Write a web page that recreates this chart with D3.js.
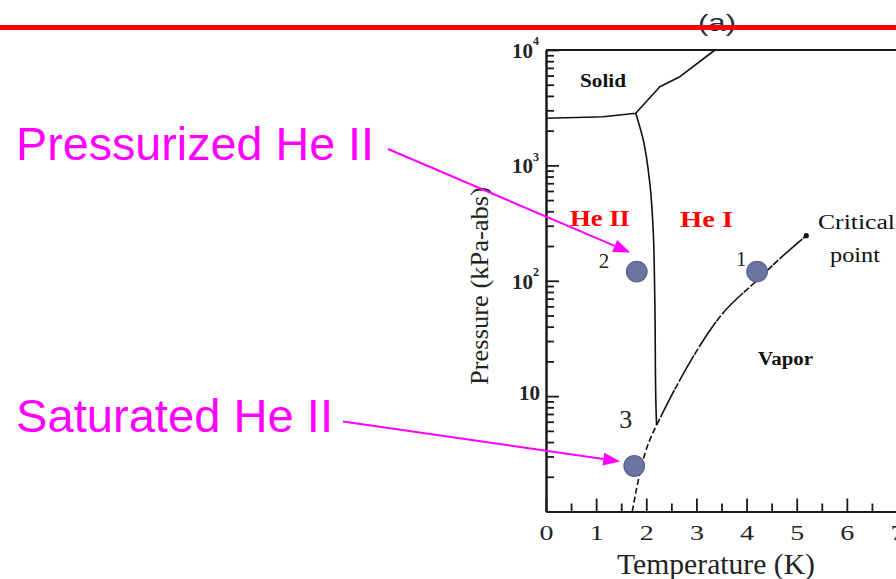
<!DOCTYPE html>
<html>
<head>
<meta charset="utf-8">
<script src="https://cdn.jsdelivr.net/npm/d3@7/dist/d3.min.js"></script>
<style>
  html, body { margin: 0; padding: 0; background: #fff; }
  svg { display: block; }
</style>
</head>
<body>
<svg id="chart" width="896" height="579"></svg>
<script>
// Helium phase diagram: temperature (K) vs pressure (kPa-abs, log scale)

// Melting curve (solid boundary)
const meltT = [0, 0.8, 1.14, 1.79, 2.27, 2.67, 3.37];
const meltP = [2560, 2610, 2640, 2826, 4800, 5870, 10000];

// Lambda line (He II / He I boundary)
const lambdaT = [1.79, 1.94, 2.07, 2.14, 2.17, 2.19, 2.205];
const lambdaP = [2826, 1660, 703, 259, 68, 9.3, 5.6];

// Saturated vapour curve below the lambda point (dashed)
const vapLowT = [1.72, 1.905, 2.205];
const vapLowP = [1.0, 2.48, 5.6];

// Saturated vapour curve from the lambda point to the critical point
const vapHighT = [2.205, 2.67, 3.47, 4.2, 4.66, 5.19];
const vapHighP = [5.6, 13.8, 48.8, 100, 155, 246];

// Critical point
const critT = 5.19;
const critP = 246;

// Operating points
const pointLabels = ["1", "2", "3"];
const pointT = [4.21, 1.81, 1.76];
const pointP = [120, 120, 2.48];

// Axis ticks
const xMajorTicks = [0, 1, 2, 3, 4, 5, 6, 7];
const xMinorTicks = [0.5, 1.5, 2.5, 3.5, 4.5, 5.5, 6.5];
const yMajorTicks = [10, 100, 1000, 10000];
const yMajorExp = ["", "2", "3", "4"];
const yMinorTicks = [];
[1, 10, 100, 1000].forEach(d => { for (let m = 2; m <= 9; m++) yMinorTicks.push(d * m); });

const svg = d3.select("#chart");
const serif = "'Liberation Serif', 'Times New Roman', serif";
const sans = "'Liberation Sans', Arial, sans-serif";

const x = d3.scaleLinear().domain([0, 7]).range([546, 897]);
const y = d3.scaleLog().domain([1, 10000]).range([511.5, 50]);

// Figure tag, partly under the red rule
svg.append("text")
  .attr("x", 717).attr("y", 31)
  .attr("text-anchor", "middle")
  .attr("font-family", sans).attr("font-size", 24)
  .attr("textLength", 38).attr("lengthAdjust", "spacingAndGlyphs")
  .attr("fill", "#1e2c46")
  .text("(a)");

// Plot frame
const axisColor = "#1a1a1a";
svg.append("line")
  .attr("x1", x(0)).attr("x2", 896).attr("y1", y(10000)).attr("y2", y(10000))
  .attr("stroke", axisColor).attr("stroke-width", 1.8);

// X axis
const gxMinor = svg.append("g").attr("transform", `translate(0,${y(1)})`)
  .call(d3.axisBottom(x).tickValues(xMinorTicks).tickSizeInner(-8).tickSizeOuter(0).tickFormat(""));
const gx = svg.append("g").attr("transform", `translate(0,${y(1)})`)
  .call(d3.axisBottom(x).tickValues(xMajorTicks).tickSizeInner(-13).tickSizeOuter(0).tickPadding(10)
    .tickFormat(d3.format("d")));
[gx, gxMinor].forEach(g => {
  g.select(".domain").attr("stroke", axisColor).attr("stroke-width", 2);
  g.selectAll(".tick line").attr("stroke", axisColor).attr("stroke-width", 1.8);
});
gx.selectAll(".tick text")
  .attr("font-family", serif).attr("font-size", 21).attr("fill", "#222")
  .attr("dy", "0.9em")
  .attr("textLength", 14).attr("lengthAdjust", "spacingAndGlyphs");

// Y axis
const gyMinor = svg.append("g").attr("transform", `translate(${x(0)},0)`)
  .call(d3.axisLeft(y).tickValues(yMinorTicks).tickSizeInner(-8).tickSizeOuter(0).tickFormat(""));
const gy = svg.append("g").attr("transform", `translate(${x(0)},0)`)
  .call(d3.axisLeft(y).tickValues(yMajorTicks).tickSizeInner(-13).tickSizeOuter(0).tickPadding(6).tickFormat(""));
[gy, gyMinor].forEach(g => {
  g.select(".domain").attr("stroke", axisColor).attr("stroke-width", 2);
  g.selectAll(".tick line").attr("stroke", axisColor).attr("stroke-width", 1.8);
});
gy.selectAll(".tick text").each(function (d, i) {
  const t = d3.select(this);
  const exp = yMajorExp[i];
  t.attr("font-family", serif).attr("fill", "#222").attr("font-weight", "bold")
   .attr("dy", exp ? "0.75em" : "0.35em").attr("x", exp ? -7 : -6);
  t.append("tspan").attr("font-size", 21).text("10");
  if (exp) t.append("tspan").attr("font-size", 12).attr("dy", "-1.05em").text(exp);
});

// Axis titles
svg.append("text")
  .attr("x", 716).attr("y", 574)
  .attr("text-anchor", "middle")
  .attr("font-family", serif).attr("font-size", 29).attr("fill", "#222")
  .attr("textLength", 198).attr("lengthAdjust", "spacingAndGlyphs")
  .text("Temperature (K)");
svg.append("text")
  .attr("transform", "translate(488,286) rotate(-90)")
  .attr("text-anchor", "middle")
  .attr("font-family", serif).attr("font-size", 26).attr("fill", "#222")
  .attr("textLength", 198).attr("lengthAdjust", "spacingAndGlyphs")
  .text("Pressure (kPa-abs)");

// Phase boundaries
const lineLin = d3.line().x(d => x(d[0])).y(d => y(d[1]));
const lineX = d3.line().x(d => x(d[0])).y(d => y(d[1])).curve(d3.curveMonotoneX);
const lineY = d3.line().x(d => x(d[0])).y(d => y(d[1])).curve(d3.curveMonotoneY);
const zip = (a, b) => a.map((v, i) => [v, b[i]]);

svg.append("path").datum(zip(meltT, meltP)).attr("d", lineLin)
  .attr("fill", "none").attr("stroke", "#111").attr("stroke-width", 1.6)
  .attr("stroke-linejoin", "round");
svg.append("path").datum(zip(lambdaT, lambdaP)).attr("d", lineY)
  .attr("fill", "none").attr("stroke", "#111").attr("stroke-width", 1.6);
svg.append("path").datum(zip(vapLowT, vapLowP)).attr("d", lineX)
  .attr("fill", "none").attr("stroke", "#111").attr("stroke-width", 1.6)
  .attr("stroke-dasharray", "6,3");
svg.append("path").datum(zip(vapHighT, vapHighP)).attr("d", lineX)
  .attr("fill", "none").attr("stroke", "#111").attr("stroke-width", 1.6)
  .attr("stroke-dasharray", "7,2,30,1");
svg.append("circle").attr("cx", x(critT)).attr("cy", y(critP)).attr("r", 2.6).attr("fill", "#111");

// Region labels
function label(txt, px, py, size, weight, color, len, family) {
  svg.append("text").attr("x", px).attr("y", py)
    .attr("font-family", family || serif).attr("font-size", size)
    .attr("font-weight", weight).attr("fill", color)
    .attr("textLength", len).attr("lengthAdjust", "spacingAndGlyphs")
    .text(txt);
}
label("Solid", 580, 87, 18, "bold", "#111", 46);
label("He II", 570, 226, 24, "bold", "#ff0000", 60);
label("He I", 680, 226.5, 24, "bold", "#ff0000", 53);
label("Critical", 818, 229, 20, "normal", "#111", 77);
label("point", 830, 261.5, 21, "normal", "#111", 50);
label("Vapor", 758, 365, 18, "bold", "#111", 55);

// Operating points with number labels
const labelOffsets = [[-21, -6], [-38, -4], [-15, -38]];
const labelSizes = [21, 21, 26];
pointT.forEach((t, i) => {
  const cx = x(t), cy = y(pointP[i]);
  svg.append("circle").attr("cx", cx).attr("cy", cy).attr("r", 10.3)
    .attr("fill", "#6b759f").attr("stroke", "#58628c").attr("stroke-width", 1.2);
  svg.append("text")
    .attr("x", cx + labelOffsets[i][0]).attr("y", cy + labelOffsets[i][1])
    .attr("font-family", serif).attr("font-size", labelSizes[i]).attr("fill", "#222")
    .text(pointLabels[i]);
});

// Annotations pointing at the pressurised and saturated He II states
const magenta = "#ff00ff";
function arrow(x1, y1, x2, y2) {
  const ang = Math.atan2(y2 - y1, x2 - x1);
  const len = 17, half = 6.5;
  const bx = x2 - len * Math.cos(ang), by = y2 - len * Math.sin(ang);
  svg.append("line").attr("x1", x1).attr("y1", y1).attr("x2", bx).attr("y2", by)
    .attr("stroke", magenta).attr("stroke-width", 2);
  svg.append("polygon")
    .attr("points", [
      [x2, y2],
      [bx + half * Math.sin(ang), by - half * Math.cos(ang)],
      [bx - half * Math.sin(ang), by + half * Math.cos(ang)]
    ].map(p => p.join(",")).join(" "))
    .attr("fill", magenta);
}
svg.append("text").attr("x", 16).attr("y", 160)
  .attr("font-family", sans).attr("font-size", 47).attr("fill", magenta)
  .attr("textLength", 358).attr("lengthAdjust", "spacingAndGlyphs")
  .text("Pressurized He II");
svg.append("text").attr("x", 16).attr("y", 431.5)
  .attr("font-family", sans).attr("font-size", 47).attr("fill", magenta)
  .attr("textLength", 317).attr("lengthAdjust", "spacingAndGlyphs")
  .text("Saturated He II");
arrow(388, 149, x(pointT[1]) - 6.5, y(pointP[1]) - 19);
arrow(343, 421.5, x(pointT[2]) - 14, y(pointP[2]) - 4.5);

// Red rule across the top
svg.append("line")
  .attr("x1", 0).attr("x2", 896).attr("y1", 27.5).attr("y2", 27.5)
  .attr("stroke", "#ff0000").attr("stroke-width", 5);
</script>
</body>
</html>
